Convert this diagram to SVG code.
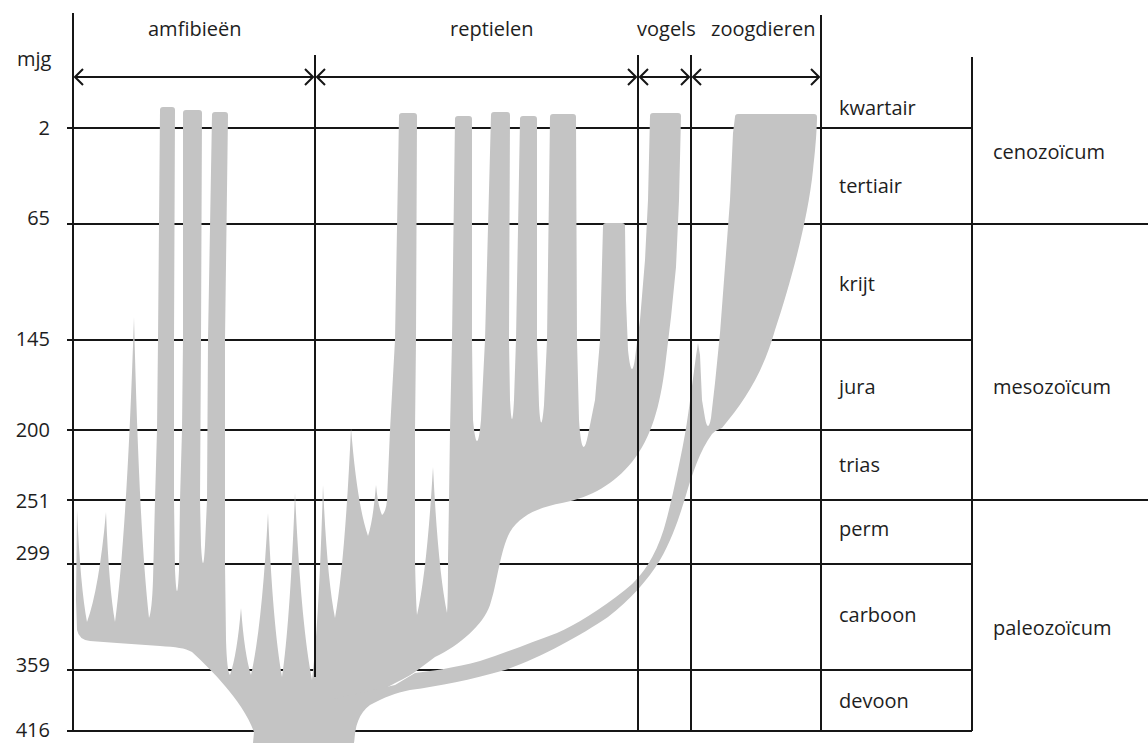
<svg xmlns="http://www.w3.org/2000/svg" width="1148" height="743" viewBox="0 0 1148 743">
<defs>
<style>
.ln{stroke:#161616;stroke-width:2;fill:none}
.tx{font-family:"Open Sans","Liberation Sans",sans-serif;font-size:20px;fill:#1e1e1e}
.num{font-family:"Open Sans","Liberation Sans",sans-serif;font-size:20px;fill:#1e1e1e;text-anchor:end}
.tree{fill:#c4c4c4;stroke:none}
</style>
<marker id="chev" viewBox="0 0 10 18" refX="9" refY="9" markerWidth="10" markerHeight="18" markerUnits="userSpaceOnUse" orient="auto-start-reverse">
<path d="M1,1 L9,9 L1,17" fill="none" stroke="#161616" stroke-width="2"/>
</marker>
</defs>
<rect width="1148" height="743" fill="#ffffff"/>
<g id="grid" class="ln">
<line x1="67" y1="128" x2="972" y2="128"/>
<line x1="67" y1="224" x2="1148" y2="224"/>
<line x1="67" y1="340" x2="972" y2="340"/>
<line x1="67" y1="430" x2="972" y2="430"/>
<line x1="67" y1="500" x2="1148" y2="500"/>
<line x1="67" y1="564" x2="972" y2="564"/>
<line x1="67" y1="670" x2="972" y2="670"/>
<line x1="67" y1="731" x2="972" y2="731"/>
<line x1="73" y1="13" x2="73" y2="731"/>
<line x1="821" y1="15" x2="821" y2="731"/>
<line x1="972" y1="57" x2="972" y2="731"/>
</g>
<g id="tree">
<path class="tree" d="M 253,743 L 254,732 C 248,715 236,699 225,686 C 214,673 203,662 192,652 C 185,648 176,647 160,646 L 117,643 L 90,641 Q 79,640 77,630 L 76,600 L 77,510 Q 80.5,588 87,622 Q 99,589 106,512 Q 109,589 115,622 Q 127,530 134,317 Q 139,528 149,618 Q 152,610 153,580 L 155,500 L 157,430 L 158,340 L 160,110 Q 160,107 163,107 L 172,107 Q 175,107 175,110 L 174,340 L 174,500 L 175,570 Q 177,612 179,570 L 180,500 L 182,430 L 183,340 L 183,113 Q 183,110 186,110 L 199,110 Q 202,110 202,113 L 201,340 L 200,500 L 201,545 Q 203,581 205,545 L 207,500 L 208,340 L 212,115 Q 212,112 215,112 L 225,112 Q 228,112 228,115 L 225,340 L 225,500 L 225,564 L 226,640 Q 227,672 230,675 Q 237,655 241,608 Q 244.5,655 251,675 Q 262,626 268,513 Q 273,628 282,677 Q 290,622 295,493 Q 301,624 312,680 Q 319,621 323,485 Q 327,578 335,618 Q 345,561 351,428 Q 357,504 368,536 Q 373,521 376,485 Q 378,506 382,515 Q 386,512 387,500 L 390,430 L 395,340 L 399,116 Q 399,113 402,113 L 414,113 Q 417,113 417,116 L 416,340 L 415,430 L 415,560 Q 416,605 417,615 Q 427,571 433,467 Q 438,569 447,613 Q 448,600 448,560 L 449,500 L 450,430 L 452,340 L 455,119 Q 455,116 458,116 L 469,116 Q 472,116 472,119 L 472,340 L 473,420 Q 477,462 481,420 L 485,340 L 491,115 Q 491,112 494,112 L 507,112 Q 510,112 510,115 L 509,340 L 510,400 Q 512,438 514,400 L 516,340 L 520,119 Q 520,116 523,116 L 534,116 Q 537,116 537,119 L 537,340 L 539,405 Q 541,440 544,405 L 547,340 L 550,117 Q 550,114 553,114 L 573,114 Q 576,114 576,117 L 577,340 L 579,420 Q 582,465 588,435 L 595,400 L 600,340 L 603,226 Q 603,223 606,223 L 622,223 Q 625,223 625,226 L 626,300 L 628,350 Q 632,388 636,350 L 640,320 L 645,260 L 648,200 L 650,116 Q 650,113 653,113 L 678,113 Q 681,113 681,116 L 679,200 L 676,267 L 671,317 L 665,367 C 660,405 652,437 632,462 C 614,484 592,497 562,503 C 540,507 520,515 510,532 C 500,550 497,585 490,605 C 483,625 460,645 435,657 L 415,672 C 400,682 378,690 368,700 C 359,708 355,725 354,743 Z"/>
<path class="tree" d="M 330,743 L 354,743 C 355,726 359,713 370,705 C 385,697 395,693 410,690 C 440,686 470,680 505,670 C 540,658 580,636 608,617 C 630,600 648,580 660,560 C 672,540 680,515 686,495 C 692,475 700,450 712,434 Q 716,430 722,428 C 745,400 762,375 775,330 C 790,285 808,220 813,170 C 816,145 817,125 817,117 Q 817,114 814,114 L 738,114 Q 735,114 735,117 L 733,133 L 730,200 L 725,267 L 720,333 L 715,383 L 711,418 Q 708,434 705,418 L 702,400 L 700,355 L 698,343 L 696,356 C 692,385 688,420 683,445 C 678,470 672,500 665,525 C 658,550 645,575 625,590 C 600,610 575,625 557,633 C 530,643 505,653 480,661 C 455,668 430,671 415,673 L 395,685 L 330,700 Z"/>
</g>
<g id="dividers" class="ln">
<line x1="315" y1="55" x2="315" y2="677"/>
<line x1="638" y1="55" x2="638" y2="731"/>
<line x1="691" y1="55" x2="691" y2="731"/>
</g>
<g id="connectors" class="ln">
<line x1="75" y1="77" x2="313" y2="77" marker-start="url(#chev)" marker-end="url(#chev)"/>
<line x1="317" y1="77" x2="636" y2="77" marker-start="url(#chev)" marker-end="url(#chev)"/>
<line x1="640" y1="77" x2="689" y2="77" marker-start="url(#chev)" marker-end="url(#chev)"/>
<line x1="693" y1="77" x2="819" y2="77" marker-start="url(#chev)" marker-end="url(#chev)"/>
</g>
<g id="groups">
<g id="amfibieen"><text class="tx" x="148" y="36">amfibieën</text></g>
<g id="reptielen"><text class="tx" x="450" y="36">reptielen</text></g>
<g id="vogels"><text class="tx" x="637" y="36">vogels</text></g>
<g id="zoogdieren"><text class="tx" x="711" y="36">zoogdieren</text></g>
</g>
<g id="axis">
<text class="tx" x="17" y="66">mjg</text>
<text class="num" x="50" y="135">2</text>
<text class="num" x="50" y="225">65</text>
<text class="num" x="50" y="346">145</text>
<text class="num" x="50" y="437">200</text>
<text class="num" x="50" y="508">251</text>
<text class="num" x="50" y="560">299</text>
<text class="num" x="50" y="672">359</text>
<text class="num" x="50" y="737">416</text>
</g>
<g id="periods">
<g id="kwartair"><text class="tx" x="839" y="115">kwartair</text></g>
<g id="tertiair"><text class="tx" x="839" y="193">tertiair</text></g>
<g id="krijt"><text class="tx" x="839" y="291">krijt</text></g>
<g id="jura"><text class="tx" x="839" y="394">jura</text></g>
<g id="trias"><text class="tx" x="839" y="472">trias</text></g>
<g id="perm"><text class="tx" x="839" y="536">perm</text></g>
<g id="carboon"><text class="tx" x="839" y="622">carboon</text></g>
<g id="devoon"><text class="tx" x="839" y="708">devoon</text></g>
</g>
<g id="eras">
<g id="cenozoicum"><text class="tx" x="993" y="159">cenozoïcum</text></g>
<g id="mesozoicum"><text class="tx" x="993" y="394">mesozoïcum</text></g>
<g id="paleozoicum"><text class="tx" x="993" y="635">paleozoïcum</text></g>
</g>
</svg>
